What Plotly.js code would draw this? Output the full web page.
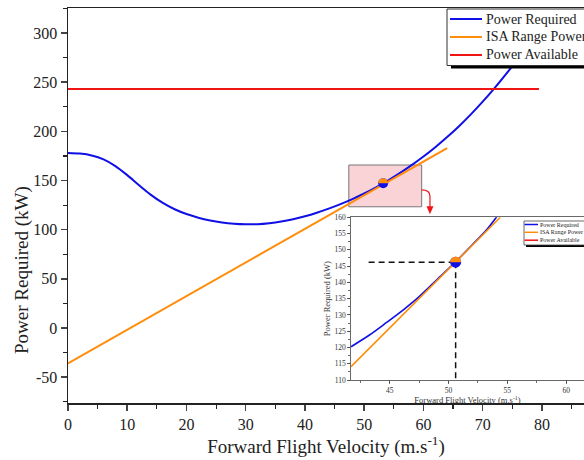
<!DOCTYPE html>
<html>
<head>
<meta charset="utf-8">
<script src="https://cdn.plot.ly/plotly-3.0.1.min.js"></script>
<style>html,body{margin:0;padding:0;background:#fff}#chart{width:584px;height:460px}</style>
</head>
<body>
<div id="chart"></div>
<script>
// ---- main chart data ----
const velocity = [0,2,4,6,8,10,12,14,16,18,20,22,24,26,28,30,32,34,36,38,40,42,44,46,48,50,52,54,56,58,60,62,64,66,68,70,72,74,76,78,80];
const powerRequired = [178,177.4,175.5,171.5,164.7,155.5,145.2,135.4,127.2,120.8,115.9,112.2,109.4,107.4,106.1,105.5,105.6,106.6,108.3,110.7,113.7,117.3,121.4,126,131.1,136.8,143.1,150,157.5,165.6,174.4,183.9,194.2,205.3,217.3,230.2,244,258.7,274.3,290.8,308.2];
const isaVelocity = [0, 64];
const isaRangePower = [-36, 183];
const availVelocity = [0, 79.5];
const powerAvailable = [243, 243];
const pointVelocity = [53.2];
const pointPower = [147.3];
const zoomBoxV = [47.4, 59.7];
const zoomBoxP = [123.3, 165.8];
const legendNames = ['Power Required', 'ISA Range Power', 'Power Available'];

// ---- inset data ----
const insetVelocity = [41.7,43.3,44.7,46.1,47.5,49,50.6,52,53.2,54.1];
const insetPowerRequired = [120.2,123.9,127.6,131.4,135.6,140.8,146.3,151.5,156,160.2];
const insetIsaVelocity = [41.7, 54.4];
const insetIsaPower = [114.1, 160];
const insetPointV = [50.6];
const insetPointP = [146.2];
const insetGuideStartV = 43.2;
const insetYMin = 110;

const xTicks = [0,10,20,30,40,50,60,70,80];
const yTicks = [-50,0,50,100,150,200,250,300];
const insetXTicks = [45,50,55,60];
const insetYTicks = [110,115,120,125,130,135,140,145,150,155,160];

const BLUE = 'rgb(15,15,230)';
const ORANGE = 'rgb(255,140,10)';
const RED = 'rgb(240,20,20)';
const FONT = "'Liberation Serif', 'Times New Roman', 'DejaVu Serif', serif";
const TXT = '#222';
const COLORS = [BLUE, ORANGE, RED];

// pixel -> paper helpers (plot area: left 68, width 516, top 8, height 395)
const L = 68, W = 516, T = 8, H = 395;
const px = v => (v - L) / W;
const py = v => (T + H - v) / H;

// upper half-disc path (pixel units, y up) built from cubic Beziers
function halfDisc(r) {
  const k = 0.5523 * r;
  return `M ${-r} 0 C ${-r} ${k} ${-k} ${r} 0 ${r} C ${k} ${r} ${r} ${k} ${r} 0 Z`;
}

const traces = [
  {x: velocity, y: powerRequired, type: 'scatter', mode: 'lines', name: legendNames[0],
   line: {color: BLUE, width: 2, shape: 'spline', smoothing: 0.8}, xaxis: 'x', yaxis: 'y'},
  {x: isaVelocity, y: isaRangePower, type: 'scatter', mode: 'lines', name: legendNames[1],
   line: {color: ORANGE, width: 2}, xaxis: 'x', yaxis: 'y'},
  {x: availVelocity, y: powerAvailable, type: 'scatter', mode: 'lines', name: legendNames[2],
   line: {color: RED, width: 2}, xaxis: 'x', yaxis: 'y'},
  {x: pointVelocity, y: pointPower, type: 'scatter', mode: 'markers',
   marker: {color: BLUE, size: 10}, xaxis: 'x', yaxis: 'y'},
  // inset
  {x: insetVelocity, y: insetPowerRequired, type: 'scatter', mode: 'lines',
   line: {color: BLUE, width: 1.6, shape: 'spline', smoothing: 0.8}, xaxis: 'x2', yaxis: 'y2'},
  {x: insetIsaVelocity, y: insetIsaPower, type: 'scatter', mode: 'lines',
   line: {color: ORANGE, width: 1.6}, xaxis: 'x2', yaxis: 'y2'},
  {x: [insetGuideStartV, insetPointV[0]], y: [insetPointP[0], insetPointP[0]], type: 'scatter', mode: 'lines',
   line: {color: '#111', width: 1.5, dash: '6px,4px'}, xaxis: 'x2', yaxis: 'y2'},
  {x: [insetPointV[0], insetPointV[0]], y: [insetPointP[0], insetYMin], type: 'scatter', mode: 'lines',
   line: {color: '#111', width: 1.5, dash: '6px,4px'}, xaxis: 'x2', yaxis: 'y2'},
  {x: insetPointV, y: insetPointP, type: 'scatter', mode: 'markers',
   marker: {color: BLUE, size: 11}, xaxis: 'x2', yaxis: 'y2'}
];

const shapes = [
  // highlight box
  {type: 'rect', xref: 'x', yref: 'y', x0: zoomBoxV[0], x1: zoomBoxV[1], y0: zoomBoxP[0], y1: zoomBoxP[1],
   fillcolor: 'rgba(238,110,120,0.30)', line: {color: '#777', width: 1}, layer: 'below'},
  // half orange markers
  {type: 'path', xref: 'x', yref: 'y', xsizemode: 'pixel', ysizemode: 'pixel',
   xanchor: pointVelocity[0], yanchor: pointPower[0],
   path: halfDisc(5), fillcolor: ORANGE, line: {width: 0}},
  {type: 'path', xref: 'x2', yref: 'y2', xsizemode: 'pixel', ysizemode: 'pixel',
   xanchor: insetPointV[0], yanchor: insetPointP[0],
   path: halfDisc(5.5), fillcolor: ORANGE, line: {width: 0}},
  // red connector + arrowhead
  {type: 'path', xref: 'x', yref: 'y',
   path: `M ${zoomBoxV[1]},140.5 Q 61.1,140.5 61.1,134 L 61.1,121`,
   line: {color: RED, width: 1.2}},
  {type: 'path', xref: 'x', yref: 'y', xsizemode: 'pixel', ysizemode: 'pixel',
   xanchor: 61.1, yanchor: 115.8,
   path: 'M -3.5 8 L 3.5 8 L 0 0 Z', fillcolor: RED, line: {width: 0}},
  // main legend shadow + box
  {type: 'rect', xref: 'paper', yref: 'paper', x0: px(451), x1: px(600), y0: py(68.5), y1: py(20),
   fillcolor: '#000', line: {width: 0}},
  {type: 'rect', xref: 'paper', yref: 'paper', x0: px(447), x1: px(600), y0: py(65.5), y1: py(9),
   fillcolor: '#fff', line: {color: '#333', width: 1}},
  // inset legend shadow + box
  {type: 'rect', xref: 'paper', yref: 'paper', x0: px(526), x1: px(600), y0: py(247), y1: py(224),
   fillcolor: '#000', line: {width: 0}},
  {type: 'rect', xref: 'paper', yref: 'paper', x0: px(524), x1: px(600), y0: py(245), y1: py(221),
   fillcolor: '#fff', line: {color: '#444', width: 0.8}}
];

const annotations = [
  {xref: 'paper', yref: 'paper', x: px(22), y: py(270), text: 'Power Required (kW)', textangle: -90,
   showarrow: false, font: {family: FONT, size: 19, color: TXT}, xanchor: 'center', yanchor: 'middle'}
];

// legend entries (main + inset), built from the names and colours
const mainRows = [19, 37, 55];
const insetRows = [224.5, 232.3, 240.2];
legendNames.forEach((name, i) => {
  shapes.push({type: 'line', xref: 'paper', yref: 'paper', x0: px(450), x1: px(482), y0: py(mainRows[i]), y1: py(mainRows[i]),
               line: {color: COLORS[i], width: 2}});
  annotations.push({xref: 'paper', yref: 'paper', x: px(484), y: py(mainRows[i]), text: name, showarrow: false,
                    xanchor: 'left', yanchor: 'middle', font: {family: FONT, size: 14, color: TXT}});
  shapes.push({type: 'line', xref: 'paper', yref: 'paper', x0: px(524.5), x1: px(538), y0: py(insetRows[i]), y1: py(insetRows[i]),
               line: {color: COLORS[i], width: 1.5}});
  annotations.push({xref: 'paper', yref: 'paper', x: px(538), y: py(insetRows[i]), text: name, showarrow: false,
                    xanchor: 'left', yanchor: 'middle', font: {family: FONT, size: 6, color: '#222'}});
});

const layout = {
  width: 584, height: 460,
  margin: {l: L, r: 0, t: T, b: 460 - T - H},
  paper_bgcolor: '#fff', plot_bgcolor: '#fff',
  font: {family: FONT, color: TXT},
  showlegend: false,
  xaxis: {domain: [0, 1], range: [0, 87.1], tickvals: xTicks, ticktext: xTicks.map(String), ticks: 'outside', ticklen: 6, tickwidth: 1.5,
          minor: {dtick: 5, ticks: 'outside', ticklen: 4, tickwidth: 1.2, tickcolor: '#222'},
          showline: true, linecolor: '#222', linewidth: 1.5, mirror: true, showgrid: false, zeroline: false,
          tickfont: {family: FONT, size: 16, color: TXT},
          title: {text: 'Forward Flight Velocity (m.s<sup>-1</sup>)', font: {family: FONT, size: 19, color: TXT}, standoff: 6}},
  yaxis: {domain: [0, 1], range: [-76.3, 325.5], tickvals: yTicks, ticktext: yTicks.map(String), ticks: 'outside', ticklen: 6, tickwidth: 1.5,
          minor: {dtick: 25, ticks: 'outside', ticklen: 4, tickwidth: 1.2, tickcolor: '#222'},
          showline: true, linecolor: '#222', linewidth: 1.5, showgrid: false, zeroline: false,
          tickfont: {family: FONT, size: 16, color: TXT}},
  xaxis2: {domain: [px(351), 1], range: [41.7, 61.52], anchor: 'y2', tickvals: insetXTicks,
           ticks: 'outside', ticklen: 3, tickwidth: 0.8, tickcolor: '#444',
           minor: {dtick: 2.5, ticks: 'outside', ticklen: 2, tickwidth: 0.8, tickcolor: '#444'},
           showline: true, linecolor: '#444', linewidth: 0.8, mirror: true, showgrid: false, zeroline: false,
           tickfont: {family: FONT, size: 7.5, color: '#333'},
           title: {text: 'Forward Flight Velocity (m.s<sup>-1</sup>)', font: {family: FONT, size: 8.5, color: '#333'}, standoff: 1}},
  yaxis2: {domain: [py(380), py(217.3)], range: [110, 160], anchor: 'x2', tickvals: insetYTicks,
           ticks: 'outside', ticklen: 3, tickwidth: 0.8, tickcolor: '#444',
           minor: {dtick: 2.5, ticks: 'outside', ticklen: 2, tickwidth: 0.8, tickcolor: '#444'},
           showline: true, linecolor: '#444', linewidth: 0.8, showgrid: false, zeroline: false,
           tickfont: {family: FONT, size: 7.5, color: '#333'},
           title: {text: 'Power Required (kW)', font: {family: FONT, size: 8.5, color: '#333'}, standoff: 2}},
  shapes: shapes,
  annotations: annotations
};

Plotly.newPlot('chart', traces, layout, {staticPlot: true, displayModeBar: false});
</script>
</body>
</html>
